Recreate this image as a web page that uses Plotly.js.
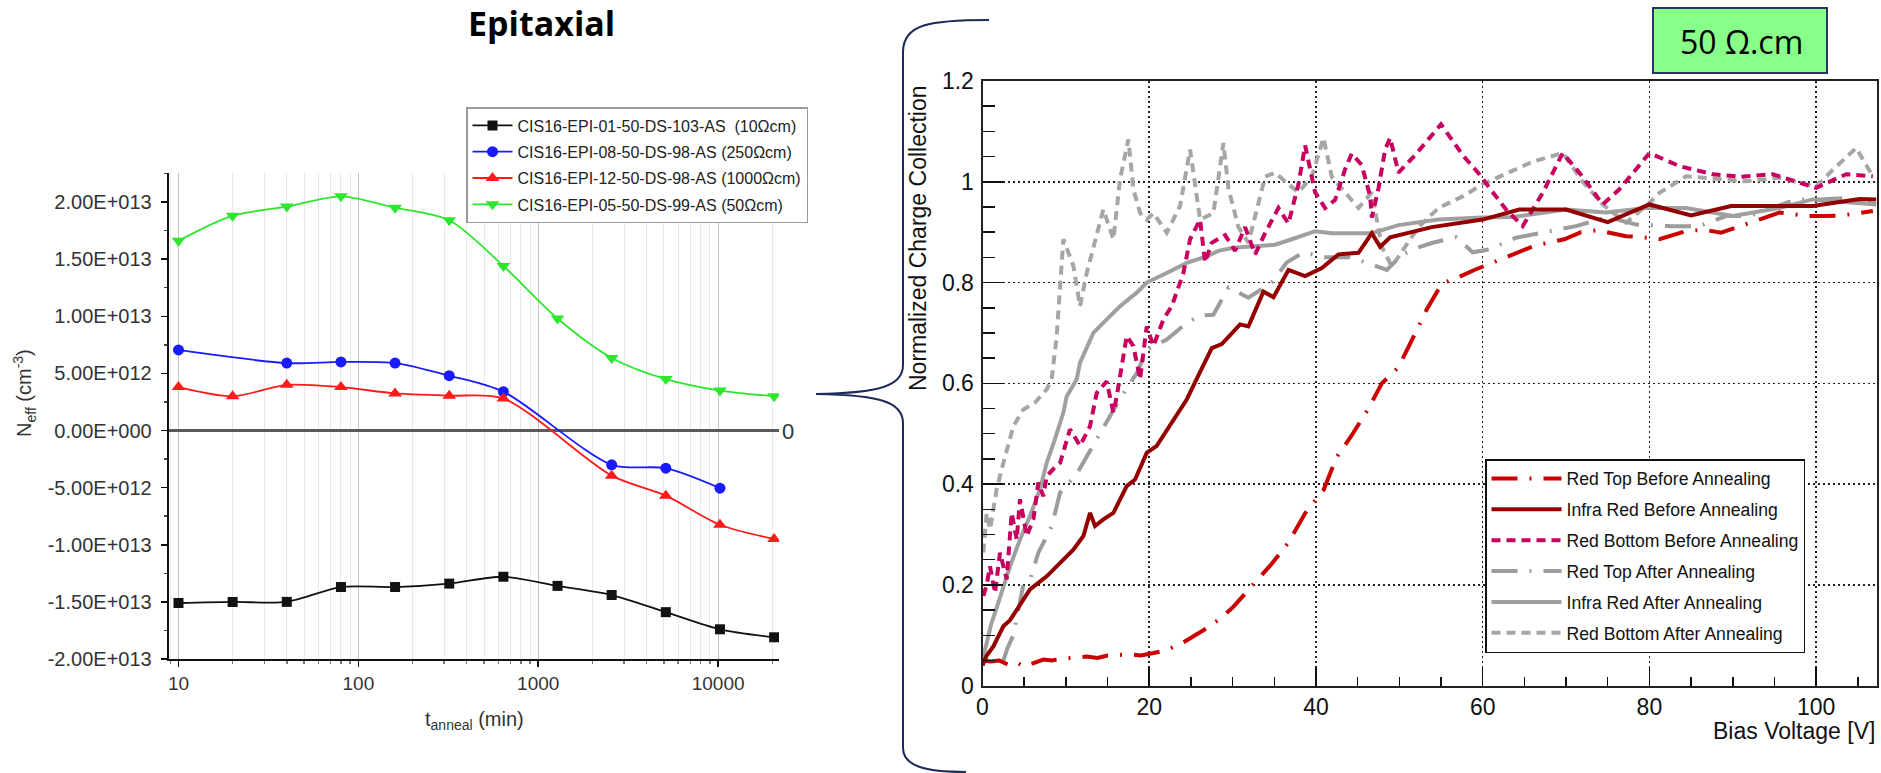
<!DOCTYPE html>
<html>
<head>
<meta charset="utf-8">
<script src="https://cdn.plot.ly/plotly-3.0.1.min.js"></script>
<style>
html,body{margin:0;padding:0;background:#fff;}
#chart{width:1881px;height:773px;}
</style>
</head>
<body>
<div id="chart"></div>
<script>
// ---------------- Left chart data (Neff vs annealing time) ----------------
const annealTime = [10, 20, 40, 80, 160, 320, 640, 1280, 2560, 5120, 10240, 20480];
const neff10 = [-1.51e13, -1.50e13, -1.50e13, -1.37e13, -1.37e13, -1.34e13, -1.28e13, -1.36e13, -1.44e13, -1.59e13, -1.74e13, -1.81e13];
const time250 = [10, 40, 80, 160, 320, 640, 2560, 5120, 10240];
const neff250 = [7.05e12, 5.9e12, 6.0e12, 5.9e12, 4.8e12, 3.4e12, -3.0e12, -3.3e12, -5.05e12];
const time1000 = [10, 20, 40, 80, 160, 320, 640, 2560, 5120, 10240, 20480];
const neff1000 = [3.8e12, 3.0e12, 4.0e12, 3.8e12, 3.25e12, 3.05e12, 2.8e12, -3.95e12, -5.7e12, -8.25e12, -9.5e12];
const neff50 = [1.66e13, 1.88e13, 1.96e13, 2.05e13, 1.95e13, 1.84e13, 1.44e13, 9.8e12, 6.35e12, 4.5e12, 3.5e12, 3.0e12];
const leftNames = ["CIS16-EPI-01-50-DS-103-AS  (10Ωcm)", "CIS16-EPI-08-50-DS-98-AS (250Ωcm)", "CIS16-EPI-12-50-DS-98-AS (1000Ωcm)", "CIS16-EPI-05-50-DS-99-AS (50Ωcm)"];
const leftYTickVals = [-2e13, -1.5e13, -1e13, -5e12, 0, 5e12, 1e13, 1.5e13, 2e13];
const leftYTickText = ["-2.00E+013", "-1.50E+013", "-1.00E+013", "-5.00E+012", "0.00E+000", "5.00E+012", "1.00E+013", "1.50E+013", "2.00E+013"];
const leftXTickVals = [10, 100, 1000, 10000];
const leftXTickText = ["10", "100", "1000", "10000"];

// ---------------- Right chart data (charge collection vs bias) ----------------
const rtbV = [0, 1, 2, 3.3, 4.2, 5, 7.3, 8.3, 9.3, 12.5, 13.8, 15, 17.7, 19, 20.5, 22, 24, 25.5, 27, 28.5, 30, 31.9, 33.3, 34.7, 36.7, 38.7, 40.9, 42.5, 44.3, 46.3, 47.9, 49.9, 51.5, 53.3, 55.1, 57, 59, 60.5, 62.4, 64.3, 66.2, 69.8, 71.8, 73.8, 75.5, 77.2, 79.2, 81.2, 84.4, 86.5, 88.6, 91.8, 93.7, 95.6, 99.2, 101, 103, 106.8];
const rtbC = [0.05, 0.048, 0.05, 0.04, 0.045, 0.038, 0.052, 0.05, 0.053, 0.058, 0.055, 0.06, 0.062, 0.06, 0.065, 0.07, 0.085, 0.1, 0.115, 0.133, 0.155, 0.19, 0.215, 0.242, 0.284, 0.342, 0.388, 0.454, 0.497, 0.55, 0.6, 0.632, 0.686, 0.747, 0.798, 0.81, 0.825, 0.835, 0.846, 0.86, 0.873, 0.886, 0.9, 0.904, 0.898, 0.892, 0.89, 0.886, 0.902, 0.905, 0.899, 0.916, 0.928, 0.939, 0.932, 0.932, 0.933, 0.942];

const irbV = [0, 0.5, 1.3, 2.5, 3.3, 4.1, 5.7, 7.7, 9.3, 10.9, 12.1, 12.9, 13.5, 14.5, 15.7, 17.3, 18.3, 19.7, 20.9, 22.9, 24.5, 25.9, 27.5, 28.7, 30.9, 31.9, 33.7, 34.9, 36.7, 38.7, 40.7, 42.7, 45.1, 46.7, 47.7, 48.9, 53.9, 60, 64.4, 70, 75, 80, 85, 89.8, 99.6, 105.2, 107.2];
const irbC = [0.04, 0.06, 0.078, 0.118, 0.13, 0.151, 0.191, 0.217, 0.244, 0.27, 0.297, 0.343, 0.317, 0.33, 0.343, 0.396, 0.409, 0.462, 0.476, 0.529, 0.568, 0.616, 0.67, 0.678, 0.717, 0.713, 0.782, 0.771, 0.825, 0.813, 0.829, 0.856, 0.859, 0.898, 0.871, 0.89, 0.91, 0.925, 0.945, 0.945, 0.92, 0.955, 0.933, 0.952, 0.952, 0.966, 0.965];

const rbbV = [0.1, 0.5, 0.9, 1.5, 2.1, 2.9, 3.5, 4.1, 4.5, 5.3, 6.1, 6.7, 7.3, 7.7, 8.5, 9.3, 10.5, 11.7, 12.9, 13.7, 14.9, 15.7, 16.1, 17.3, 18.1, 18.9, 19.7, 20.5, 21.7, 22.7, 24.1, 24.9, 26.1, 26.7, 27.5, 29.1, 30.3, 31.5, 32.7, 33.9, 35.5, 36.7, 37.9, 38.7, 39.9, 41.1, 42.3, 43.5, 44.3, 45.5, 46.5, 46.7, 47.5, 48.3, 48.9, 49.9, 51.9, 55, 57.6, 59.6, 60.8, 62.8, 64.8, 67.2, 69.6, 71.6, 74.4, 76.4, 80, 83.6, 87.6, 91, 94.8, 100, 103.6, 106.8];
const rbbC = [0.178, 0.2, 0.237, 0.184, 0.264, 0.211, 0.343, 0.29, 0.37, 0.297, 0.33, 0.403, 0.376, 0.416, 0.43, 0.442, 0.509, 0.476, 0.515, 0.581, 0.604, 0.542, 0.574, 0.694, 0.674, 0.608, 0.713, 0.674, 0.727, 0.753, 0.819, 0.886, 0.925, 0.84, 0.879, 0.894, 0.863, 0.91, 0.856, 0.898, 0.948, 0.917, 0.995, 1.072, 0.979, 0.948, 0.964, 1.025, 1.056, 1.033, 0.971, 0.929, 0.987, 1.064, 1.087, 1.018, 1.053, 1.114, 1.053, 1.015, 0.988, 0.945, 0.912, 0.978, 1.057, 1.018, 0.955, 0.985, 1.057, 1.031, 1.015, 1.01, 1.015, 0.988, 1.015, 1.011];

const rtaV = [2.5, 3, 3.7, 4.9, 5.7, 6.7, 8.3, 9.3, 11.3, 16.5, 18.5, 19.7, 22.1, 24, 26, 27.7, 28.5, 29.5, 31.9, 34.7, 36.5, 38.5, 41, 44, 46, 47.5, 48.5, 50.3, 52.3, 54, 56.8, 58.8, 60.8, 64, 68, 71.2, 75, 78.4, 82.6, 86, 89.2, 92, 97.6, 100.4, 103.6, 107.2];
const rtaC = [0.05, 0.075, 0.1, 0.2, 0.21, 0.264, 0.316, 0.383, 0.42, 0.57, 0.62, 0.667, 0.687, 0.713, 0.735, 0.736, 0.76, 0.79, 0.77, 0.8, 0.84, 0.86, 0.85, 0.85, 0.84, 0.83, 0.825, 0.855, 0.87, 0.879, 0.89, 0.86, 0.866, 0.889, 0.902, 0.912, 0.93, 0.915, 0.912, 0.912, 0.932, 0.932, 0.965, 0.965, 0.968, 0.955];

const iraV = [0, 1, 2, 3.3, 4.5, 5.7, 6.9, 7.7, 8.7, 9.7, 10.1, 11.3, 11.7, 13.3, 14.9, 16.5, 18.5, 19.7, 22.1, 24.5, 26.9, 28.3, 30.1, 31.9, 35.1, 37.1, 39.9, 41.9, 46.7, 49.9, 54.7, 60, 63.6, 70, 74.8, 79.6, 84.4, 90, 95.6, 99.6, 107.2];
const iraC = [0.05, 0.12, 0.17, 0.237, 0.29, 0.337, 0.39, 0.442, 0.49, 0.542, 0.574, 0.608, 0.641, 0.7, 0.727, 0.753, 0.78, 0.8, 0.819, 0.839, 0.852, 0.863, 0.869, 0.871, 0.875, 0.886, 0.902, 0.898, 0.898, 0.914, 0.925, 0.929, 0.93, 0.945, 0.939, 0.948, 0.948, 0.932, 0.948, 0.965, 0.955];

const rbaV = [0.1, 0.5, 0.9, 1.7, 2.5, 3.3, 3.7, 4.9, 6.3, 7.7, 8.3, 8.9, 9.3, 9.7, 10.9, 11.7, 12.5, 14.5, 15.7, 16.5, 17.5, 18.1, 18.9, 19.7, 20.5, 22.1, 23.7, 24.9, 26.1, 27.7, 28.9, 29.5, 30.7, 31.9, 33.9, 35.1, 36.7, 37.9, 39.5, 40.9, 41.9, 43.9, 45.1, 46.7, 47.9, 49.1, 50.7, 52.3, 54.7, 57.6, 60, 62, 64, 66, 69.6, 72, 74.4, 77.2, 80, 81.2, 84.4, 88.4, 91.6, 95.6, 100, 102, 104.8, 106.8];
const rbaC = [0.264, 0.343, 0.31, 0.39, 0.442, 0.489, 0.515, 0.548, 0.562, 0.588, 0.608, 0.694, 0.793, 0.886, 0.833, 0.753, 0.819, 0.945, 0.886, 1.005, 1.084, 0.985, 0.938, 0.925, 0.938, 0.899, 0.952, 1.064, 0.925, 0.938, 1.077, 0.987, 0.91, 0.879, 1.01, 1.018, 0.995, 0.979, 1.01, 1.087, 1.01, 0.971, 0.948, 0.979, 0.871, 0.832, 0.871, 0.91, 0.948, 0.971, 0.995, 1.01, 1.025, 1.04, 1.057, 1.0, 0.955, 0.919, 0.958, 0.978, 1.011, 1.005, 1.001, 1.008, 0.99, 1.024, 1.067, 1.011];

const rightNames = ["Red Top Before Annealing", "Infra Red Before Annealing", "Red Bottom Before Annealing", "Red Top After Annealing", "Infra Red After Annealing", "Red Bottom After Annealing"];

// ---------------- Layout helpers ----------------
const W = 1881, H = 773;
const PX = x => x / W;
const PY = y => 1 - y / H;
const FONT = "Liberation Sans, Arial, Helvetica, sans-serif";

// minor log grid positions
const minorLog = [];
for (let d = 0; d <= 4; d++) {
  for (let m = 2; m <= 9; m++) {
    const v = m * Math.pow(10, d);
    if (v > 8.8 && v < 21800) minorLog.push(v);
  }
}

const traces = [];
function leftTrace(x, y, name, color, symbol, size, rank) {
  return {
    x: x, y: y, name: name, type: 'scatter', mode: 'lines+markers',
    xaxis: 'x', yaxis: 'y', legend: 'legend', legendgroup: 'L' + rank, legendrank: rank,
    line: {color: color, width: 1.8, shape: 'spline', smoothing: 0.8},
    marker: {color: color, symbol: symbol, size: size}
  };
}
traces.push(leftTrace(annealTime, neff10, leftNames[0], '#111111', 'square', 10, 1));
traces.push(leftTrace(time250, neff250, leftNames[1], '#1a1aff', 'circle', 11, 2));
traces.push(leftTrace(time1000, neff1000, leftNames[2], '#ff1a1a', 'triangle-up', 12, 3));
traces.push(leftTrace(annealTime, neff50, leftNames[3], '#2ee62e', 'triangle-down', 12, 4));

function rightTrace(x, y, name, color, dash, width, rank) {
  return {
    x: x, y: y, name: name, type: 'scatter', mode: 'lines',
    xaxis: 'x2', yaxis: 'y2', legend: 'legend2', legendgroup: 'R' + rank, legendrank: rank,
    line: {color: color, width: width, dash: dash}
  };
}
const dashDot = '26px,12px,2px,12px';
const shortDash = '9px,6px';
// drawn order: after-annealing first, then before-annealing on top
traces.push(rightTrace(rbaV, rbaC, rightNames[5], '#a6a6a6', shortDash, 4, 6));
traces.push(rightTrace(rtaV, rtaC, rightNames[3], '#9c9c9c', dashDot, 4, 4));
traces.push(rightTrace(iraV, iraC, rightNames[4], '#a0a0a0', 'solid', 4, 5));
traces.push(rightTrace(rbbV, rbbC, rightNames[2], '#c8005f', shortDash, 4, 3));
traces.push(rightTrace(rtbV, rtbC, rightNames[0], '#cc0000', dashDot, 4, 1));
traces.push(rightTrace(irbV, irbC, rightNames[1], '#940000', 'solid', 4, 2));

const annot = (x, y, text, opts) => Object.assign({
  xref: 'paper', yref: 'paper', x: PX(x), y: PY(y), text: text, showarrow: false,
  xanchor: 'center', yanchor: 'middle',
  font: {family: FONT, size: 20, color: '#222'}
}, opts || {});

const layout = {
  width: W, height: H,
  margin: {l: 0, r: 0, t: 0, b: 0},
  paper_bgcolor: '#ffffff', plot_bgcolor: 'rgba(0,0,0,0)',
  font: {family: FONT, color: '#222'},
  xaxis: {
    type: 'log', domain: [PX(168.5), PX(779)], anchor: 'y',
    range: [Math.log10(8.8), Math.log10(21800)],
    tickmode: 'array', tickvals: leftXTickVals, ticktext: leftXTickText,
    ticks: 'outside', ticklen: 6, tickwidth: 1.5, tickcolor: '#111',
    showline: true, linecolor: '#111', linewidth: 1.8,
    showgrid: true, gridcolor: '#c4c4c4', gridwidth: 1,
    minor: {tickmode: 'array', tickvals: minorLog, ticks: 'outside', ticklen: 3, tickcolor: '#777', showgrid: true, gridcolor: '#e9e9e9', gridwidth: 1},
    tickfont: {family: FONT, size: 19, color: '#333'}, ticklabelstandoff: 0,
    zeroline: false, fixedrange: true
  },
  yaxis: {
    domain: [PY(659), PY(173)], anchor: 'x',
    range: [-2e13, 2.254e13],
    tickmode: 'array', tickvals: leftYTickVals, ticktext: leftYTickText,
    ticks: 'outside', ticklen: 6, tickwidth: 1.5, tickcolor: '#111',
    showline: true, linecolor: '#111', linewidth: 1.8,
    showgrid: false,
    zeroline: true, zerolinecolor: '#5a5a5a', zerolinewidth: 2.5,
    minor: {tickmode: 'linear', tick0: 0, dtick: 2.5e12, ticks: 'outside', ticklen: 3, tickcolor: '#444'},
    tickfont: {family: FONT, size: 20, color: '#333'}, ticklabelstandoff: 5,
    fixedrange: true
  },
  xaxis2: {
    domain: [PX(982.5), PX(1877)], anchor: 'y2',
    range: [0, 107.3], tickmode: 'linear', tick0: 0, dtick: 20,
    ticks: 'inside', ticklen: 19, tickwidth: 1.5, tickcolor: '#111',
    minor: {tickmode: 'linear', tick0: 0, dtick: 5, ticks: 'inside', ticklen: 9, tickwidth: 1.5, tickcolor: '#111'},
    showline: true, mirror: true, linecolor: '#222', linewidth: 2,
    showgrid: true, gridcolor: '#222', gridwidth: 1.5, griddash: '2px,3px',
    zeroline: false,
    tickfont: {family: FONT, size: 23, color: '#111'}, ticklabelstandoff: 0,
    fixedrange: true
  },
  yaxis2: {
    domain: [PY(685.7), PY(81)], anchor: 'x2',
    range: [0, 1.2], tickmode: 'linear', tick0: 0, dtick: 0.2,
    ticks: 'inside', ticklen: 20, tickwidth: 1.5, tickcolor: '#111',
    minor: {tickmode: 'linear', tick0: 0, dtick: 0.05, ticks: 'inside', ticklen: 12, tickwidth: 1.5, tickcolor: '#111'},
    showline: true, mirror: true, linecolor: '#222', linewidth: 2,
    showgrid: true, gridcolor: '#222', gridwidth: 1.5, griddash: '2px,3px',
    zeroline: false,
    tickfont: {family: FONT, size: 23, color: '#111'}, ticklabelstandoff: 2,
    fixedrange: true
  },
  legend: {
    x: PX(466), y: PY(107), xanchor: 'left', yanchor: 'top',
    bgcolor: '#ffffff', bordercolor: '#9a9a9a', borderwidth: 1.5,
    font: {family: FONT, size: 16, color: '#222'},
    traceorder: 'grouped', tracegroupgap: 2.5, itemwidth: 40
  },
  legend2: {
    x: PX(1485), y: PY(459), xanchor: 'left', yanchor: 'top',
    bgcolor: '#ffffff', bordercolor: '#111', borderwidth: 1.5,
    font: {family: FONT, size: 17.6, color: '#111'},
    traceorder: 'grouped', tracegroupgap: 5, itemwidth: 70
  },
  shapes: [
    // curly brace linking the two panels
    {type: 'path', xref: 'paper', yref: 'paper',
     path: 'M' + PX(989) + ',' + PY(20) +
           ' C' + PX(930) + ',' + PY(20) + ' ' + PX(903) + ',' + PY(24) + ' ' + PX(903) + ',' + PY(52) +
           ' L' + PX(903) + ',' + PY(365) +
           ' C' + PX(903) + ',' + PY(386) + ' ' + PX(880) + ',' + PY(393) + ' ' + PX(816) + ',' + PY(394) +
           ' C' + PX(880) + ',' + PY(395) + ' ' + PX(903) + ',' + PY(402) + ' ' + PX(903) + ',' + PY(423) +
           ' L' + PX(903) + ',' + PY(748) +
           ' C' + PX(903) + ',' + PY(766) + ' ' + PX(925) + ',' + PY(772) + ' ' + PX(966) + ',' + PY(772),
     line: {color: '#1f2a5c', width: 2}},
    // green resistivity box
    {type: 'rect', xref: 'paper', yref: 'paper',
     x0: PX(1653), x1: PX(1827), y0: PY(73), y1: PY(8),
     fillcolor: '#88ff88', line: {color: '#2b3564', width: 2}}
  ],
  annotations: [
    annot(541, 23, '<b>Epitaxial</b>', {font: {family: 'Open Sans, Noto Sans, sans-serif', size: 34, color: '#000'}}),
    annot(1741, 41, '50 Ω.cm', {font: {family: 'Open Sans, Noto Sans, sans-serif', size: 32, color: '#000'}}),
    annot(788, 431, '0', {font: {family: FONT, size: 22, color: '#333'}}),
    annot(24, 393, 'N<sub>eff</sub> (cm<sup>-3</sup>)', {textangle: -90, font: {family: FONT, size: 20, color: '#333'}}),
    annot(474, 720, 't<sub>anneal</sub> (min)', {font: {family: FONT, size: 20, color: '#333'}}),
    annot(918, 238, 'Normalized Charge Collection', {textangle: -90, font: {family: FONT, size: 23, color: '#111'}}),
    annot(1877, 731, 'Bias Voltage [V]', {xanchor: 'right', font: {family: FONT, size: 23, color: '#111'}})
  ]
};

Plotly.newPlot('chart', traces, layout, {displayModeBar: false, staticPlot: true});
</script>
</body>
</html>
